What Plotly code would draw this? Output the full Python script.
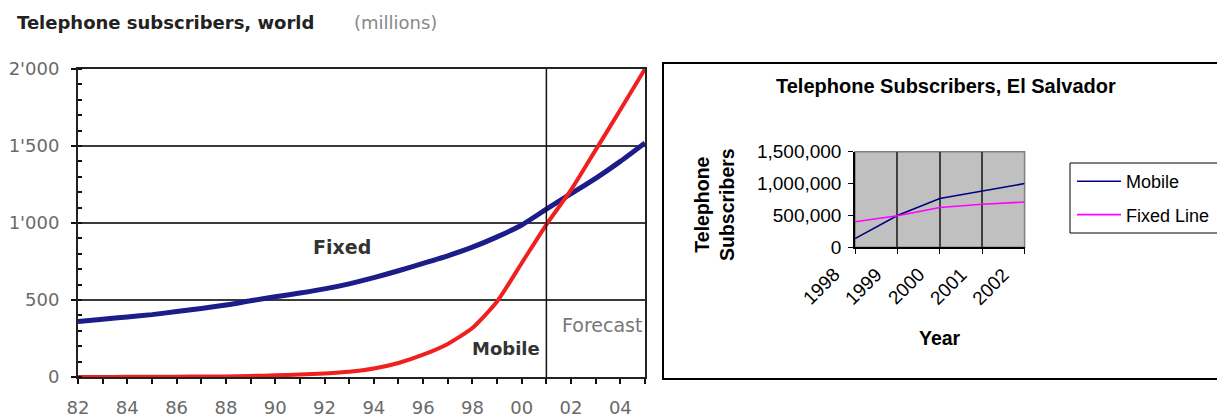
import plotly.graph_objects as go

# World subscribers (millions), 1982-2005 (2002 onward is forecast)
years_world = list(range(1982, 2006))
fixed_world = [360, 375, 390, 405, 425, 445, 467, 495, 521, 545,
               572, 605, 645, 690, 738, 787, 843, 910, 987, 1090,
               1190, 1290, 1400, 1520]
mobile_world = [0, 0, 1, 1, 2, 3, 4, 7, 11, 16,
                23, 34, 55, 91, 145, 215, 318, 490, 740, 990,
                1215, 1475, 1735, 2000]
world_tick_years = list(range(1982, 2005, 2))
world_tick_text = ["82", "84", "86", "88", "90", "92", "94", "96", "98", "00", "02", "04"]
world_y_vals = [0, 500, 1000, 1500, 2000]
world_y_text = ["0", "500", "1'000", "1'500", "2'000"]

# El Salvador subscribers
years_sv = [1998, 1999, 2000, 2001, 2002]
mobile_sv = [137000, 500000, 765000, 885000, 1000000]
fixed_sv = [400000, 495000, 625000, 675000, 710000]

W, H = 1217, 418
LEFT_FONT = "DejaVu Sans"
RIGHT_FONT = "Arial, Liberation Sans"


def px(x):
    return x / W


def py(y):
    return (H - y) / H


fig = go.Figure()

# ---- left chart: world ----
fig.add_trace(go.Scatter(
    x=years_world, y=fixed_world, mode="lines", showlegend=False,
    line=dict(color="#1c1c8a", width=5, shape="spline", smoothing=0.6),
    xaxis="x", yaxis="y", hoverinfo="skip"))
fig.add_trace(go.Scatter(
    x=years_world, y=mobile_world, mode="lines", showlegend=False,
    line=dict(color="#f0201e", width=4, shape="spline", smoothing=0.6),
    xaxis="x", yaxis="y", hoverinfo="skip"))

# ---- right chart: El Salvador ----
fig.add_trace(go.Scatter(
    x=years_sv, y=mobile_sv, mode="lines", name="Mobile",
    line=dict(color="#000080", width=1.6), xaxis="x2", yaxis="y2",
    legendgroup="m"))
fig.add_trace(go.Scatter(
    x=years_sv, y=fixed_sv, mode="lines", name="Fixed Line",
    line=dict(color="#ff00ff", width=1.6), xaxis="x2", yaxis="y2",
    legendgroup="f"))

left_x = [px(78), px(645)]
left_y = [py(377), py(69)]
right_x = [px(855), px(1024.6)]
right_y = [py(247.3), py(151.7)]

tick_font_left = dict(family=LEFT_FONT, size=18, color="#6a6a6a")
tick_font_right = dict(family=RIGHT_FONT, size=19, color="#000000")

fig.update_layout(
    width=W, height=H,
    margin=dict(l=0, r=0, t=0, b=0, autoexpand=False),
    paper_bgcolor="white", plot_bgcolor="white",
    xaxis=dict(
        domain=left_x, anchor="y", range=[1982, 2005],
        tickmode="array", tickvals=years_world,
        ticktext=[world_tick_text[world_tick_years.index(y)] if y in world_tick_years else ""
                  for y in years_world],
        ticks="outside", ticklen=5, tickwidth=1.5, tickcolor="#111",
        ticklabelstandoff=8,
        showgrid=False, zeroline=False,
        showline=True, linecolor="#222", linewidth=2, mirror=True,
        tickfont=tick_font_left),
    xaxis3=dict(
        overlaying="x", anchor="y", range=[1982, 2005],
        tickmode="array", tickvals=years_world,
        ticks="inside", ticklen=5, tickwidth=1.5, tickcolor="#111",
        showticklabels=False, showgrid=False, zeroline=False, showline=False),
    yaxis=dict(
        domain=left_y, anchor="x", range=[0, 2000],
        tickmode="array", tickvals=world_y_vals, ticktext=world_y_text,
        ticks="outside", ticklen=5, tickwidth=1.5, tickcolor="#111",
        ticklabelstandoff=8,
        minor=dict(dtick=100, ticks="inside", ticklen=4, tickwidth=1.5,
                   tickcolor="#111", showgrid=False),
        showgrid=True, gridcolor="#3a3a3a", gridwidth=2, zeroline=False,
        showline=True, linecolor="#222", linewidth=2, mirror=True,
        tickfont=tick_font_left),
    xaxis2=dict(
        domain=right_x, anchor="y2", range=[1998, 2002],
        tickmode="array", tickvals=years_sv,
        ticks="outside", ticklen=5, tickcolor="#000",
        showticklabels=False,
        showgrid=True, gridcolor="#404040", gridwidth=1.5, zeroline=False,
        showline=True, linecolor="#000", linewidth=1.5),
    yaxis2=dict(
        domain=right_y, anchor="x2", range=[0, 1500000],
        tickmode="array", tickvals=[0, 500000, 1000000, 1500000],
        tickformat=",d",
        ticks="outside", ticklen=5, tickcolor="#000",
        ticklabelstandoff=3,
        showgrid=False, zeroline=False,
        showline=True, linecolor="#000", linewidth=1.5,
        tickfont=tick_font_right),
    legend=dict(
        x=px(1072), y=py(163), xanchor="left", yanchor="top",
        bgcolor="rgba(0,0,0,0)", borderwidth=0,
        font=dict(family=RIGHT_FONT, size=18, color="#000"),
        traceorder="grouped", tracegroupgap=7, itemwidth=44),
    showlegend=True,
)

shapes = [
    # grey plot area of the El Salvador chart
    dict(type="rect", xref="x2 domain", yref="y2 domain", x0=0, x1=1, y0=0, y1=1,
         fillcolor="#c0c0c0", line=dict(color="#808080", width=1.5), layer="below"),
    # frame around the El Salvador chart
    dict(type="rect", xref="paper", yref="paper", x0=px(663), x1=px(1240),
         y0=py(379), y1=py(63), line=dict(color="#000", width=2),
         fillcolor="rgba(0,0,0,0)"),
    # legend box
    dict(type="rect", xref="paper", yref="paper", x0=px(1070), x1=px(1240),
         y0=py(233), y1=py(163), line=dict(color="#000", width=1),
         fillcolor="rgba(0,0,0,0)"),
    # forecast divider
    dict(type="line", xref="x", yref="y", x0=2001, x1=2001, y0=0, y1=2000,
         line=dict(color="#111", width=1.5)),
]
fig.update_layout(shapes=shapes)

annotations = [
    dict(text="<b>Telephone subscribers, world</b>", x=px(15), y=py(22),
         xref="paper", yref="paper", xanchor="left", yanchor="middle",
         showarrow=False, font=dict(family=LEFT_FONT, size=18, color="#222")),
    dict(text="(millions)", x=px(352), y=py(22),
         xref="paper", yref="paper", xanchor="left", yanchor="middle",
         showarrow=False, font=dict(family=LEFT_FONT, size=18, color="#888")),
    dict(text="<b>Fixed</b>", x=1992.7, y=844, xref="x", yref="y",
         showarrow=False, font=dict(family=LEFT_FONT, size=19, color="#333")),
    dict(text="<b>Mobile</b>", x=1999.36, y=188, xref="x", yref="y",
         showarrow=False, font=dict(family=LEFT_FONT, size=18, color="#333")),
    dict(text="Forecast", x=2003.25, y=338, xref="x", yref="y",
         showarrow=False, font=dict(family=LEFT_FONT, size=19, color="#777")),
    dict(text="<b>Telephone Subscribers, El Salvador</b>", x=px(946), y=py(86),
         xref="paper", yref="paper", xanchor="center", yanchor="middle",
         showarrow=False, font=dict(family=RIGHT_FONT, size=20, color="#000")),
    dict(text="<b>Year</b>", x=px(940), y=py(338),
         xref="paper", yref="paper", xanchor="center", yanchor="middle",
         showarrow=False, font=dict(family=RIGHT_FONT, size=19.5, color="#000")),
    dict(text="<b>Telephone<br>Subscribers</b>", x=px(715), y=py(205),
         xref="paper", yref="paper", xanchor="center", yanchor="middle",
         textangle=-90, showarrow=False,
         font=dict(family=RIGHT_FONT, size=19.5, color="#000")),
]
# slanted year labels under the El Salvador chart
for yr in years_sv:
    annotations.append(dict(
        text=str(yr), x=yr, xref="x2", y=py(261), yref="paper",
        xanchor="right", yanchor="top", xshift=-9, textangle=-45,
        showarrow=False, font=tick_font_right))
fig.update_layout(annotations=annotations)

fig.write_html("out.html")
